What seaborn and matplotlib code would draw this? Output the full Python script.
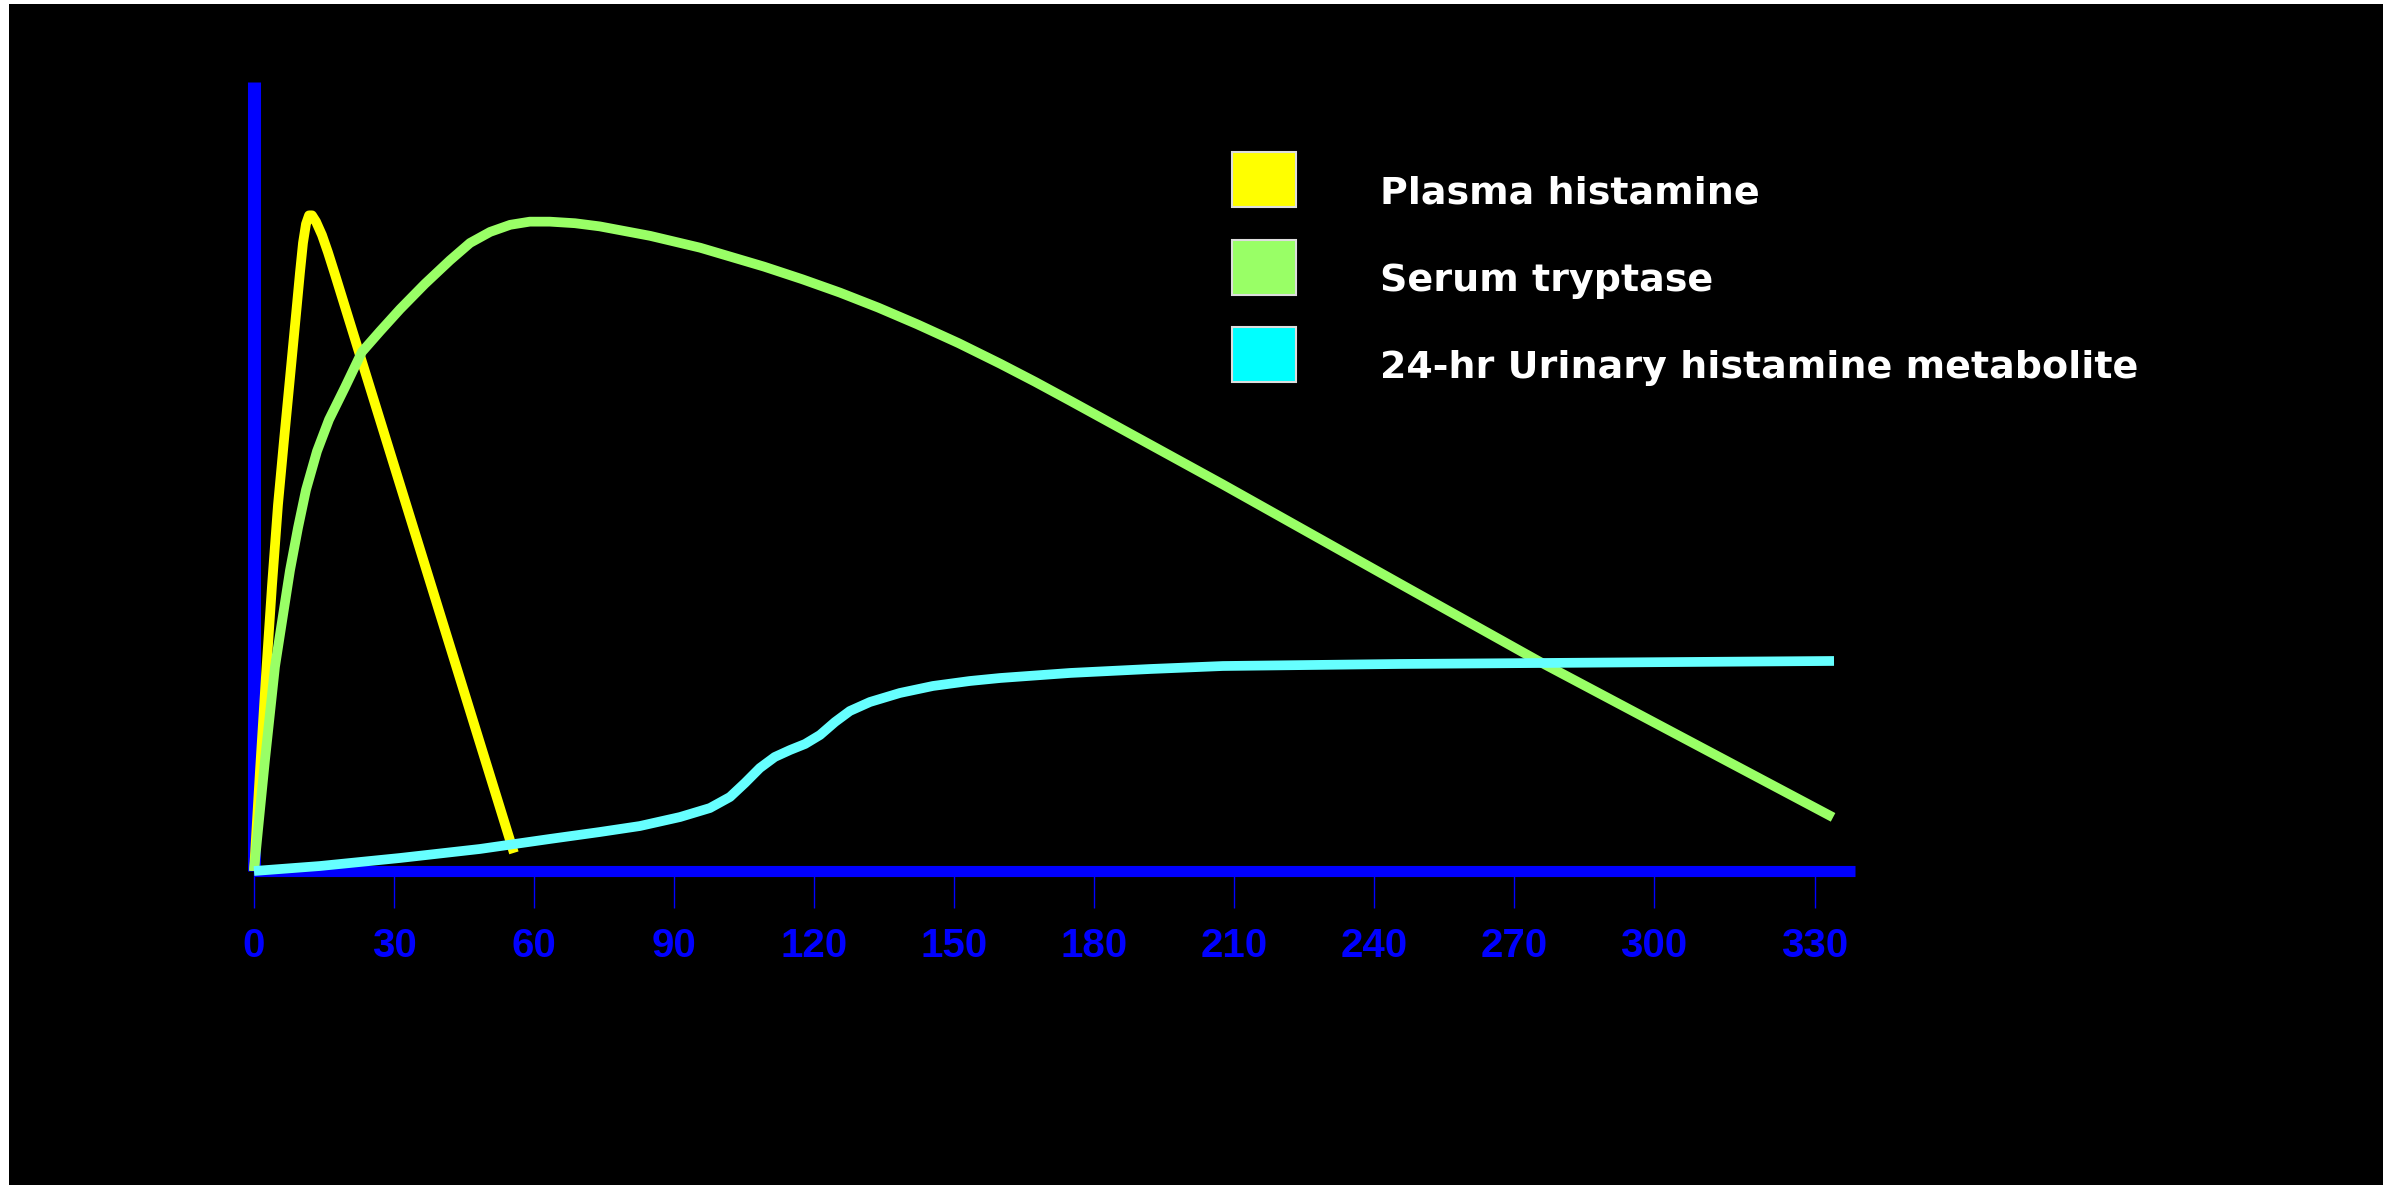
import matplotlib
matplotlib.use("Agg")
import matplotlib.pyplot as plt
import seaborn as sns
import pandas as pd
from matplotlib.patches import Patch, Rectangle
from matplotlib.legend_handler import HandlerPatch

# ---- data ----
series_names = ["Plasma histamine", "Serum tryptase", "24-hr Urinary histamine metabolite"]

plasma_x = [0, 1.29, 2.57, 3.86, 5.14, 6.43, 7.71, 9.0, 9.86, 10.5, 11.14, 11.79, 12.43, 13.29,
            14.57, 15.86, 17.36, 55.7]
plasma_y = [0, 12.8, 24.8, 36.2, 46.4, 54.6, 62.5, 70.5, 75.9, 79.6, 82.0, 83.1, 83.1, 82.3,
            80.6, 78.4, 75.6, 2.3]

tryptase_x = [0, 0.86, 2.36, 4.50, 6.0, 7.71, 9.43, 11.14, 13.5, 16.07, 19.5, 23.14, 27.0, 31.29,
              36.6, 42.0, 46.3, 50.6, 54.9, 59.1, 63.4, 68.8, 74.1, 84.9, 95.6, 109.3, 117.5,
              125.6, 133.8, 142.1, 151.0, 159.9, 167.4, 174.9, 207.6, 245.6, 275.6, 338.4]
tryptase_y = [0, 5.2, 14.1, 25.9, 31.6, 38.1, 43.5, 48.3, 53.2, 57.2, 61.3, 65.8, 68.4, 71.2,
              74.4, 77.4, 79.6, 81.0, 81.9, 82.3, 82.3, 82.1, 81.7, 80.5, 79.0, 76.6, 75.0,
              73.3, 71.4, 69.3, 66.9, 64.3, 62.0, 59.6, 49.0, 36.4, 26.5, 6.8]

urinary_x = [0, 14.1, 31.3, 48.4, 63.4, 74.1, 82.7, 91.3, 97.7, 102.0, 105.2, 108.4, 111.6, 114.9,
             118.1, 121.3, 124.5, 127.7, 132.0, 138.4, 145.5, 153.4, 159.9, 174.9, 192.0, 207.6,
             245.6, 338.6]
urinary_y = [0, 0.63, 1.65, 2.79, 4.06, 4.94, 5.70, 6.84, 7.98, 9.38, 11.15, 13.05, 14.45, 15.34,
             16.10, 17.24, 18.88, 20.28, 21.42, 22.56, 23.45, 24.08, 24.46, 25.10, 25.60, 25.98,
             26.24, 26.62]

tick_labels = ["0", "30", "60", "90", "120", "150", "180", "210", "240", "270", "300", "330"]

# ---- styling ----
line_colors = ["#FFFF00", "#99FF66", "#66FFFF"]
box_colors = ["#FFFF00", "#99FF66", "#00FFFF"]
tick_pos = [0, 30, 60, 90, 120, 150, 180, 210, 240, 270, 300, 334.5]

sns.set_style("dark", {"axes.facecolor": "black", "figure.facecolor": "white"})
plt.rcParams["font.family"] = ["DejaVu Sans"]

df = pd.concat([
    pd.DataFrame({"t": plasma_x, "v": plasma_y, "series": series_names[0]}),
    pd.DataFrame({"t": tryptase_x, "v": tryptase_y, "series": series_names[1]}),
    pd.DataFrame({"t": urinary_x, "v": urinary_y, "series": series_names[2]}),
], ignore_index=True)

W, H = 2397, 1189
fig = plt.figure(figsize=(W / 100, H / 100), dpi=100, facecolor="white")
# black slide background with thin white margin
bg = Rectangle((9 / W, 4 / H), (2383 - 9) / W, (1185 - 4) / H,
               transform=fig.transFigure, facecolor="black",
               edgecolor="none", zorder=-10)
fig.patches.append(bg)

ax = fig.add_axes([254 / W, (H - 871) / H, (1855 - 254) / W, (871 - 82) / H])
ax.set_zorder(5)
ax.set_facecolor("none")

sns.lineplot(data=df, x="t", y="v", hue="series", hue_order=series_names,
             palette=dict(zip(series_names, line_colors)), estimator=None,
             sort=False, linewidth=7, legend=False, ax=ax)
for ln in ax.lines:
    ln.set_zorder(3)
    ln.set_clip_on(False)
    ln.set_solid_capstyle("butt")
    ln.set_solid_joinstyle("round")

ax.set_xlim(0, 343.1)
ax.set_ylim(0, 100)
ax.set_xlabel("")
ax.set_ylabel("")
ax.grid(False)

for s in ["top", "right"]:
    ax.spines[s].set_visible(False)
ax.spines["left"].set_visible(True)
ax.spines["bottom"].set_visible(True)
ax.spines["left"].set_color("#0000FF")
ax.spines["left"].set_linewidth(9.4)
ax.spines["bottom"].set_color("#0000FF")
ax.spines["bottom"].set_linewidth(8)
for s in ["left", "bottom"]:
    ax.spines[s].set_capstyle("butt")
    ax.spines[s].set_zorder(2.5)

ax.set_yticks([])
ax.set_xticks(tick_pos)
ax.set_xticklabels(tick_labels)
ax.tick_params(axis="x", direction="out", length=26.6, width=1, color="#0000FF",
               pad=14, labelsize=29, labelcolor="#0000FF", bottom=True)
for lbl in ax.get_xticklabels():
    lbl.set_fontfamily(["Liberation Sans", "DejaVu Sans"])
    lbl.set_fontweight("bold")

# legend: colour squares shifted up a little relative to the text baseline
SHIFT = 8.1  # points


def square(legend, orig_handle, xdescent, ydescent, width, height, fontsize):
    return Rectangle((-xdescent, -ydescent + SHIFT), width, height)


handles = [Patch(facecolor=c, edgecolor="#dddddd", linewidth=1.5, label=n)
           for c, n in zip(box_colors, series_names)]
leg = ax.legend(handles=handles, loc="upper left",
                bbox_to_anchor=(1232 / W, 1 - 163.3 / H), bbox_transform=fig.transFigure,
                frameon=False, borderpad=0, borderaxespad=0,
                handlelength=1.68, handleheight=1.85, handletextpad=2.2,
                labelspacing=0.855,
                handler_map={Patch: HandlerPatch(patch_func=square)},
                prop={"family": "DejaVu Sans", "weight": "bold", "size": 27.4})
for t in leg.get_texts():
    t.set_color("white")

fig.savefig("out.png", dpi=100, facecolor="white")
